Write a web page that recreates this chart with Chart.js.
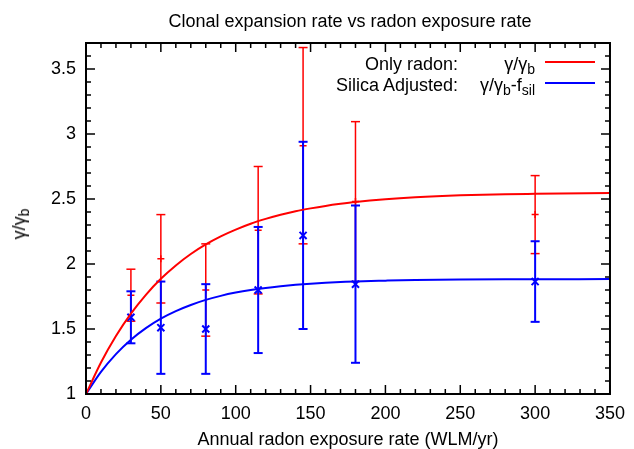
<!DOCTYPE html>
<html>
<head>
<meta charset="utf-8">
<script src="https://cdn.jsdelivr.net/npm/chart.js@4.4.1/dist/chart.umd.min.js"></script>
<style>
  body { margin: 0; background: #fff; }
  #wrap { position: relative; width: 634px; height: 449px; font-family: "Liberation Sans", Arial, sans-serif; color: #000; }
  #wrap div { position: absolute; white-space: nowrap; font-size: 18px; line-height: 18px; }
  sub { font-size: 14px; line-height: 0; vertical-align: -4px; }
  #title { left: 350px; top: 12px; transform: translateX(-50%); }
  #ylabel { left: 19px; top: 224px; transform: translate(-50%, -50%) rotate(-90deg); }
  .lab { right: 176px; text-align: right; }
  .sym { right: 99px; text-align: right; }
  .smp { left: 545px; width: 50px; height: 2px !important; }
</style>
</head>
<body>
<div id="wrap">
  <canvas id="chart" width="634" height="449"></canvas>
  <div id="title">Clonal expansion rate vs radon exposure rate</div>
  <div id="ylabel">γ/γ<sub>b</sub></div>
  <div class="lab" style="top:55px;">Only radon:</div>
  <div class="sym" style="top:55px;">γ/γ<sub>b</sub></div>
  <div class="smp" style="top:61px;background:#ff0000;"></div>
  <div class="lab" style="top:76px;">Silica Adjusted:</div>
  <div class="sym" style="top:76px;">γ/γ<sub>b</sub>-f<sub>sil</sub></div>
  <div class="smp" style="top:82px;background:#0000ff;"></div>
</div>
<script>
// ---- data ----
const rateX      = [30, 50, 80, 115, 145, 180, 300];
const radonY     = [1.76, 2.04, 1.80, 2.26, 2.91, 2.48, 2.38];
const radonErr   = [0.20, 0.34, 0.355, 0.49, 0.755, 0.615, 0.30];
const silicaY    = [1.59, 1.51, 1.50, 1.80, 2.22, 1.845, 1.865];
const silicaErr  = [0.20, 0.355, 0.345, 0.485, 0.72, 0.605, 0.31];

const fitX       = [0, 10, 20, 30, 40, 50, 60, 70, 80, 90, 100, 110, 120, 130, 140, 150, 160, 170, 180, 200, 220, 250, 280, 300, 350];
const radonFit   = [1.000, 1.242, 1.446, 1.618, 1.763, 1.886, 1.989, 2.077, 2.151, 2.213, 2.265, 2.310, 2.347, 2.379, 2.406, 2.428, 2.447, 2.463, 2.477, 2.498, 2.513, 2.528, 2.537, 2.540, 2.546];
const silicaFit  = [1.000, 1.170, 1.307, 1.418, 1.507, 1.580, 1.638, 1.685, 1.724, 1.755, 1.780, 1.800, 1.816, 1.829, 1.840, 1.849, 1.856, 1.861, 1.866, 1.872, 1.877, 1.881, 1.883, 1.883, 1.884];

const xTicks = [0, 50, 100, 150, 200, 250, 300, 350];
const yTicks = [1, 1.5, 2, 2.5, 3, 3.5];

const RED = '#ff0000';
const BLUE = '#0000ff';

// error bars as one line dataset per series, broken by null points
function errorBars(ys, errs) {
    const pts = [];
    rateX.forEach((x, i) => {
        pts.push({ x: x, y: ys[i] - errs[i] });
        pts.push({ x: x, y: ys[i] + errs[i] });
        pts.push({ x: x, y: null });
    });
    return pts;
}

function xy(xs, ys) {
    return xs.map((x, i) => ({ x: x, y: ys[i] }));
}

// border + inward ticks on all four sides (gnuplot style)
const frameTicks = {
    id: 'frameTicks',
    afterDraw(chart) {
        const { ctx, chartArea: a, scales: { x, y } } = chart;
        ctx.save();
        ctx.strokeStyle = '#000';
        ctx.lineWidth = 1.5;
        ctx.beginPath();
        for (let i = 0; i <= 35; i++) {
            const px = x.getPixelForValue(i * 10);
            const len = i % 5 === 0 ? 9 : 5;
            ctx.moveTo(px, a.bottom); ctx.lineTo(px, a.bottom - len);
            ctx.moveTo(px, a.top);    ctx.lineTo(px, a.top + len);
        }
        for (let i = 0; i <= 27; i++) {
            const py = y.getPixelForValue(1 + i * 0.1);
            const len = i % 5 === 0 ? 9 : 5;
            ctx.moveTo(a.left, py);  ctx.lineTo(a.left + len, py);
            ctx.moveTo(a.right, py); ctx.lineTo(a.right - len, py);
        }
        ctx.stroke();
        ctx.lineWidth = 2;
        ctx.strokeRect(a.left, a.top, a.right - a.left, a.bottom - a.top);
        ctx.restore();
    }
};

Chart.defaults.font.family = '"Liberation Sans", Arial, sans-serif';
Chart.defaults.color = '#000';

new Chart(document.getElementById('chart'), {
    type: 'scatter',
    data: {
        datasets: [
            {
                label: 'radon err',
                data: errorBars(radonY, radonErr),
                showLine: true, spanGaps: false,
                borderColor: RED, borderWidth: 1.5,
                pointStyle: 'line', pointRadius: 4.5,
                pointBorderColor: RED, pointBorderWidth: 1.5,
                order: 6,
            },
            {
                label: 'radon',
                data: xy(rateX, radonY),
                pointStyle: 'cross', pointRadius: 3.5,
                pointBorderColor: RED, pointBorderWidth: 1.5,
                order: 5,
            },
            {
                label: 'silica err',
                data: errorBars(silicaY, silicaErr),
                showLine: true, spanGaps: false,
                borderColor: BLUE, borderWidth: 2,
                pointStyle: 'line', pointRadius: 4.5,
                pointBorderColor: BLUE, pointBorderWidth: 2,
                order: 4,
            },
            {
                label: 'silica',
                data: xy(rateX, silicaY),
                pointStyle: 'crossRot', pointRadius: 5,
                pointBorderColor: BLUE, pointBorderWidth: 2,
                order: 3,
            },
            {
                label: 'silica fit',
                data: xy(fitX, silicaFit),
                showLine: true, cubicInterpolationMode: 'monotone',
                borderColor: BLUE, borderWidth: 2, pointRadius: 0,
                order: 2,
            },
            {
                label: 'radon fit',
                data: xy(fitX, radonFit),
                showLine: true, cubicInterpolationMode: 'monotone',
                borderColor: RED, borderWidth: 2, pointRadius: 0,
                order: 1,
            },
        ]
    },
    options: {
        responsive: false,
        animation: false,
        events: [],
        devicePixelRatio: 1,
        layout: { padding: { top: 43, right: 20, left: 0, bottom: 0 } },
        plugins: {
            legend: { display: false },
            title: { display: false },
            tooltip: { enabled: false },
        },
        scales: {
            x: {
                type: 'linear',
                min: 0, max: 350,
                afterBuildTicks: s => { s.ticks = xTicks.map(v => ({ value: v })); },
                afterFit: s => { s.height = 55; },
                ticks: { font: { size: 18 }, padding: 9, maxRotation: 0, autoSkip: false, callback: v => String(v) },
                grid: { display: false, drawTicks: false },
                border: { display: false },
                title: {
                    display: true,
                    text: 'Annual radon exposure rate (WLM/yr)',
                    font: { size: 18, lineHeight: 1 },
                    padding: { top: 0, bottom: 0 },
                },
            },
            y: {
                type: 'linear',
                min: 1, max: 3.7,
                afterBuildTicks: s => { s.ticks = yTicks.map(v => ({ value: v })); },
                afterFit: s => { s.width = 86; },
                ticks: { font: { size: 18 }, padding: 10, autoSkip: false, callback: v => String(v) },
                grid: { display: false, drawTicks: false },
                border: { display: false },
            }
        }
    },
    plugins: [frameTicks]
});
</script>
</body>
</html>
